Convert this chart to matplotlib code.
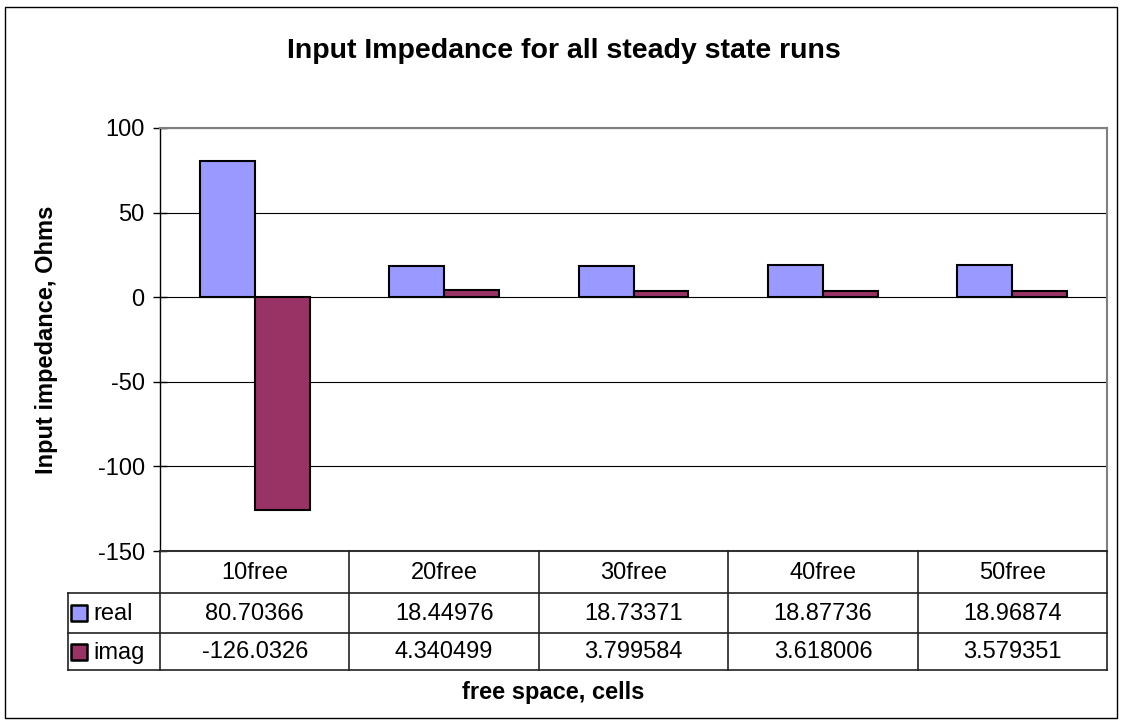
import matplotlib
matplotlib.use("Agg")
import matplotlib.pyplot as plt
import numpy as np

plt.rcParams['font.family'] = ['Liberation Sans', 'DejaVu Sans']
plt.rcParams['axes.unicode_minus'] = False

categories = ['10free', '20free', '30free', '40free', '50free']
real = [80.70366, 18.44976, 18.73371, 18.87736, 18.96874]
imag = [-126.0326, 4.340499, 3.799584, 3.618006, 3.579351]
real_labels = ['80.70366', '18.44976', '18.73371', '18.87736', '18.96874']
imag_labels = ['-126.0326', '4.340499', '3.799584', '3.618006', '3.579351']
series_names = ['real', 'imag']
colors = ['#9999FF', '#993366']

W, H = 1125, 728
fs = 17
fig = plt.figure(figsize=(W / 100, H / 100), dpi=100)

# outer chart border
border = plt.Rectangle((5 / W, 1 - 718 / H), 1112 / W, 711 / H, transform=fig.transFigure,
                       fill=False, edgecolor='black', linewidth=1.0)
fig.add_artist(border)

# plot area
left, right, top, bottom = 160, 1107, 128, 551
ax = fig.add_axes([left / W, 1 - bottom / H, (right - left) / W, (bottom - top) / H])

x = np.arange(len(categories))
w = 0.29
ax.bar(x - w / 2, real, w, color=colors[0], edgecolor='black', linewidth=1.5, zorder=3)
ax.bar(x + w / 2, imag, w, color=colors[1], edgecolor='black', linewidth=1.5, zorder=3)

ax.set_xlim(-0.5, len(categories) - 0.5)
ax.set_ylim(-150, 100)
ax.set_yticks([-150, -100, -50, 0, 50, 100])
ax.set_xticks([])
ax.yaxis.grid(True, color='black', linewidth=0.8, zorder=0)
ax.tick_params(axis='y', direction='inout', length=10, width=1, labelsize=fs, pad=6)
for s in ['top', 'right', 'bottom']:
    ax.spines[s].set_color('#808080')
    ax.spines[s].set_linewidth(1.5)
ax.spines['left'].set_color('black')
ax.spines['left'].set_linewidth(1.0)

ax.set_ylabel('Input impedance, Ohms', fontsize=fs, fontweight='bold')
ax.yaxis.set_label_coords((58 - left) / (right - left), 0.5)
fig.text(564 / W, 1 - 58 / H, 'Input Impedance for all steady state runs',
         ha='center', va='baseline', fontsize=20.5, fontweight='bold')

# data table below the plot
tl, tr, tt, tb = 68, 1107, 551, 670
tax = fig.add_axes([tl / W, 1 - tb / H, (tr - tl) / W, (tb - tt) / H])
leg_w = (left - tl) / ((right - left) / len(categories))
tax.set_xlim(-0.5 - leg_w, len(categories) - 0.5)
row_edges = [0, 42, 82, 119]
tax.set_ylim(row_edges[-1], row_edges[0])
tax.axis('off')

lc = '#222222'
xl = -0.5 - leg_w
xr = len(categories) - 0.5
# horizontal lines
tax.plot([-0.5, xr], [row_edges[0]] * 2, color=lc, lw=1.2, clip_on=False)
for y in row_edges[1:]:
    tax.plot([xl, xr], [y, y], color=lc, lw=1.2, clip_on=False)
# vertical lines
tax.plot([xl, xl], [row_edges[1], row_edges[3]], color=lc, lw=1.2, clip_on=False)
for i in range(len(categories) + 1):
    tax.plot([i - 0.5] * 2, [row_edges[0], row_edges[3]], color=lc, lw=1.2, clip_on=False)

for i, c in enumerate(categories):
    tax.text(i, (row_edges[0] + row_edges[1]) / 2 + 1, c, ha='center', va='center', fontsize=fs)
for r, labels in enumerate([real_labels, imag_labels]):
    yc = (row_edges[r + 1] + row_edges[r + 2]) / 2
    for i, lab in enumerate(labels):
        tax.text(i, yc + 1, lab, ha='center', va='center', fontsize=fs)
    tax.scatter([xl + 0.058], [yc], marker='s', s=120, color=colors[r], edgecolor='black',
                linewidth=1.8, clip_on=False)
    tax.text(xl + 0.135, yc + 1, series_names[r], ha='left', va='center', fontsize=fs)

fig.text(553 / W, 1 - 692 / H, 'free space, cells', ha='center', va='center',
         fontsize=fs, fontweight='bold')

fig.savefig('out.png', dpi=100)
